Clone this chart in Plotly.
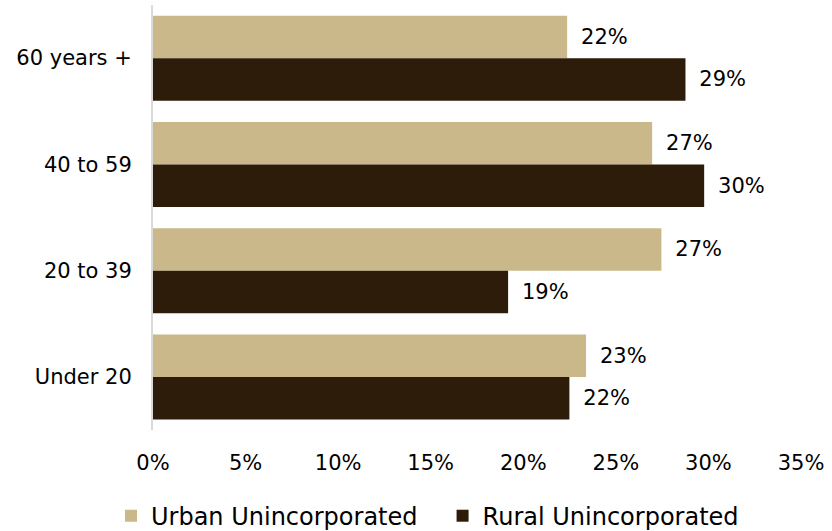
import plotly.graph_objects as go

# Age groups, listed top to bottom as drawn
age_groups = ["60 years +", "40 to 59", "20 to 39", "Under 20"]

# Share of population in each age group
urban_share = [0.2237, 0.2696, 0.2746, 0.2339]
rural_share = [0.2876, 0.2977, 0.1918, 0.2249]

x_ticks = [0, 0.05, 0.10, 0.15, 0.20, 0.25, 0.30, 0.35]
x_tick_labels = ["0%", "5%", "10%", "15%", "20%", "25%", "30%", "35%"]

URBAN_COLOR = "#CAB88A"
RURAL_COLOR = "#2E1C0B"
FONT = "DejaVu Sans"
TEXT_COLOR = "#000000"

# legend entries; trailing non-breaking spaces widen the gap between entries
series = [
    ("Urban Unincorporated\u00a0\u00a0\u2009", urban_share, URBAN_COLOR),
    ("Rural Unincorporated", rural_share, RURAL_COLOR),
]

fig = go.Figure()

for name, values, color in series:
    fig.add_trace(
        go.Bar(
            name=name,
            y=age_groups,
            x=values,
            orientation="h",
            marker=dict(color=color, line=dict(width=0)),
            texttemplate="\u00a0\u2009%{x:.0%}",
            textposition="outside",
            textfont=dict(family=FONT, size=21, color=TEXT_COLOR),
            constraintext="none",
            cliponaxis=False,
            hoverinfo="skip",
        )
    )

fig.update_layout(
    width=832,
    height=531,
    margin=dict(l=153, r=31, t=5, b=101),
    paper_bgcolor="white",
    plot_bgcolor="white",
    barmode="group",
    bargap=0.2,
    bargroupgap=0,
    font=dict(family=FONT, size=21, color=TEXT_COLOR),
    showlegend=True,
    legend=dict(
        orientation="h",
        xref="container",
        yref="container",
        x=0.1334,
        xanchor="left",
        y=0.028,
        yanchor="middle",
        font=dict(family=FONT, size=24, color=TEXT_COLOR),
        itemwidth=30,
        traceorder="normal",
    ),
    xaxis=dict(
        range=[0, 0.35],
        tickvals=x_ticks,
        ticktext=x_tick_labels,
        showgrid=False,
        zeroline=False,
        showline=False,
        ticks="",
        ticklabelstandoff=18,
        tickfont=dict(family=FONT, size=21, color=TEXT_COLOR),
        fixedrange=True,
    ),
    yaxis=dict(
        autorange="reversed",
        showgrid=False,
        zeroline=False,
        showline=True,
        linecolor="#D9D9D9",
        linewidth=2,
        ticks="",
        ticklabelstandoff=15,
        tickfont=dict(family=FONT, size=21, color=TEXT_COLOR),
        fixedrange=True,
    ),
)

fig.write_html("out.html", config={"displayModeBar": False})
